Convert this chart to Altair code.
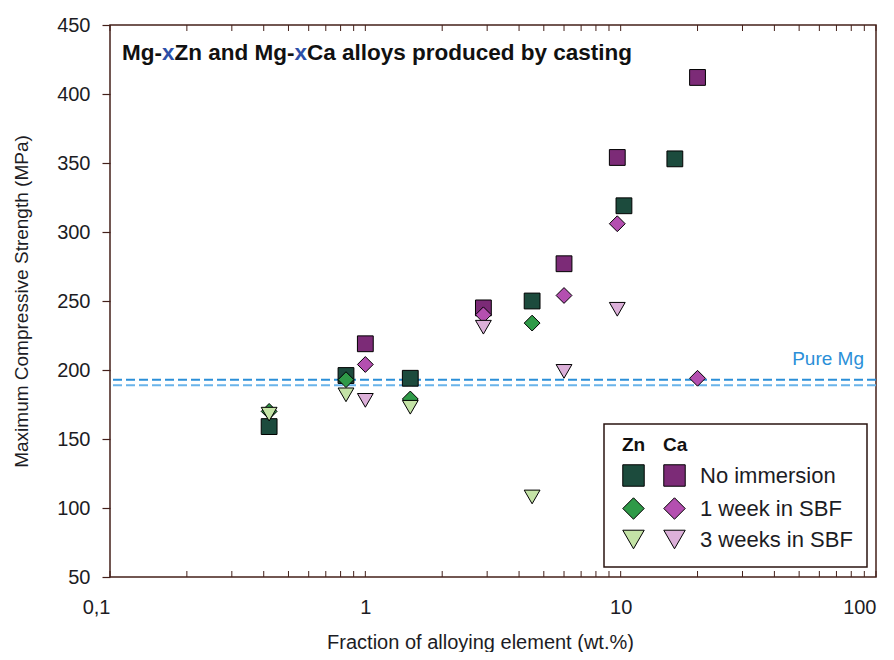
import altair as alt
import pandas as pd

# ---------------- data ----------------
conditions = ["No immersion", "1 week in SBF", "3 weeks in SBF"]

zn_x_sq = [0.42, 0.84, 1.5, 4.5, 10.3, 16.3]
zn_y_sq = [159, 196, 194, 250, 319, 353]
zn_x_di = [0.42, 0.84, 1.5, 4.5]
zn_y_di = [170, 193, 179, 234]
zn_x_tr = [0.42, 0.84, 1.5, 4.5]
zn_y_tr = [168, 182, 173, 108]

ca_x_sq = [1.0, 2.9, 6.0, 9.7, 20.0]
ca_y_sq = [219, 245, 277, 354, 412]
ca_x_di = [1.0, 2.9, 6.0, 9.7, 20.0]
ca_y_di = [204, 240, 254, 306, 194]
ca_x_tr = [1.0, 2.9, 6.0, 9.7]
ca_y_tr = [178, 231, 199, 244]

pure_mg = [193, 189]
pure_mg_colors = ["#2b8fd8", "#6ab4ea"]

y_ticks = [50, 100, 150, 200, 250, 300, 350, 400, 450]
x_major = [0.1, 1, 10, 100]
x_minor = [m * 10.0 ** e for e in (-1, 0, 1) for m in range(1, 10)] + [100]

zn_colors = ["#1c4b3d", "#2f9a48", "#c4e3a6"]
ca_colors = ["#7c2b77", "#b44fb0", "#dcb0d9"]
outline_colors = ["#000000", "#000000", "#000000"]
shapes = ["square", "diamond", "triangle-down"]

title_pieces = ["Mg-", "x", "Zn and Mg-", "x", "Ca alloys produced by casting"]
title_colors = ["#111111", "#2c4fa8", "#111111", "#2c4fa8", "#111111"]
title_offsets_em = [0, 1.777, 2.333, 7.666, 8.222]
TITLE_SIZE = 22.5

W, H = 766, 552
FONT = "Liberation Sans"
TXT = "#1c1c24"
FRAME = "#44201a"


def block(xs, ys, cond):
    return pd.DataFrame({"x": xs, "y": ys, "cond": cond})


zn_df = pd.concat([block(zn_x_sq, zn_y_sq, conditions[0]),
                   block(zn_x_di, zn_y_di, conditions[1]),
                   block(zn_x_tr, zn_y_tr, conditions[2])], ignore_index=True)
ca_df = pd.concat([block(ca_x_sq, ca_y_sq, conditions[0]),
                   block(ca_x_di, ca_y_di, conditions[1]),
                   block(ca_x_tr, ca_y_tr, conditions[2])], ignore_index=True)

xscale = alt.Scale(type="log", domain=[0.1, 100], nice=False)
yscale = alt.Scale(domain=[50, 450], nice=False, zero=False)

main_x_axis = alt.Axis(orient="bottom", values=x_major,
                       labelExpr="replace(format(datum.value, '~g'), '.', ',')",
                       labelAlign=alt.ConditionalAxisString(
                           condition={"test": "datum.value < 0.5 || datum.value > 50", "value": "right"},
                           value="center"),
                       tickSize=0, domain=False, grid=False,
                       labelFont=FONT, labelFontSize=20, labelColor=TXT, labelPadding=20,
                       title="Fraction of alloying element (wt.%)", titleFont=FONT,
                       titleFontSize=20, titleFontWeight="normal", titleColor=TXT,
                       titleX=370, titleY=71, titleBaseline="alphabetic")

y_axis = alt.Axis(values=y_ticks, tickSize=8, tickColor=FRAME, tickWidth=1.2,
                  domain=False, grid=False, labelFont=FONT, labelFontSize=20,
                  labelColor=TXT, labelPadding=12,
                  title="Maximum Compressive Strength (MPa)", titleFont=FONT,
                  titleFontSize=19, titleFontWeight="normal", titleColor=TXT,
                  titlePadding=25)


def legend(title, x, show_labels):
    kw = dict(title=title, orient="none", legendX=x, legendY=411, padding=0,
              titleFont=FONT, titleFontSize=19, titleFontWeight="bold", titleColor="#111111",
              titlePadding=9, labelFont=FONT, labelFontSize=22, labelColor=TXT,
              labelOffset=14, rowPadding=6, symbolSize=460,
              symbolStrokeWidth=1, symbolOpacity=1)
    if not show_labels:
        kw["labelExpr"] = "''"
    return alt.Legend(**kw)


def point_layer(df, colors, leg, x_axis, y_ax):
    return alt.Chart(df).mark_point(filled=True, strokeWidth=1, opacity=1,
                                    size=250).encode(
        x=alt.X("x:Q", scale=xscale, axis=x_axis),
        y=alt.Y("y:Q", scale=yscale, axis=y_ax),
        fill=alt.Fill("cond:N", scale=alt.Scale(domain=conditions, range=colors), legend=leg),
        stroke=alt.Stroke("cond:N", scale=alt.Scale(domain=conditions, range=outline_colors),
                          legend=leg),
        shape=alt.Shape("cond:N", scale=alt.Scale(domain=conditions, range=shapes), legend=leg),
    )


zn_layer = point_layer(zn_df, zn_colors, legend("Zn", 512, False), main_x_axis, y_axis)
ca_layer = point_layer(ca_df, ca_colors, legend("Ca", 553, True), None, None)

# minor/major ticks pointing inward on the bottom and top edges
tick_df = pd.DataFrame({"v": x_minor})
bottom_ticks = alt.Chart(tick_df).mark_tick(color=FRAME, thickness=1, size=6, opacity=1).encode(
    x=alt.X("v:Q", scale=xscale, axis=None), y=alt.value(H - 3))
top_ticks = alt.Chart(tick_df).mark_tick(color=FRAME, thickness=1, size=6, opacity=1).encode(
    x=alt.X("v:Q", scale=xscale, axis=None), y=alt.value(3))

mg_df = pd.DataFrame({"v": pure_mg, "c": pure_mg_colors})
mg_layer = alt.Chart(mg_df).mark_rule(strokeDash=[9, 4], strokeWidth=2).encode(
    y=alt.Y("v:Q", scale=yscale, axis=None),
    color=alt.Color("c:N", scale=None, legend=None),
)

mg_text = alt.Chart(pd.DataFrame({"t": ["Pure Mg"]})).mark_text(
    font=FONT, fontSize=19, color="#2b8fd8", align="right", baseline="alphabetic"
).encode(x=alt.value(754), y=alt.value(340), text="t:N")

title_layers = []
for piece, col, off in zip(title_pieces, title_colors, title_offsets_em):
    title_layers.append(
        alt.Chart(pd.DataFrame({"t": [piece]})).mark_text(
            font=FONT, fontSize=TITLE_SIZE, fontWeight="bold", color=col, align="left",
            baseline="alphabetic"
        ).encode(x=alt.value(12 + off * TITLE_SIZE), y=alt.value(35), text="t:N")
    )

legend_box = alt.Chart(pd.DataFrame({"a": [0]})).mark_rect(
    fill=None, stroke="#2a1410", strokeWidth=1.5
).encode(x=alt.value(494), x2=alt.value(757), y=alt.value(399), y2=alt.value(542))

chart = alt.layer(
    mg_layer, bottom_ticks, top_ticks, zn_layer, ca_layer, mg_text, legend_box, *title_layers
).resolve_scale(
    fill="independent", shape="independent", stroke="independent"
).resolve_axis(
    x="independent", y="independent"
).properties(
    width=W, height=H,
    padding={"left": 102, "top": 17, "right": 10, "bottom": 75},
    autosize=alt.AutoSizeParams(type="none"),
    background="white",
).configure_view(
    stroke=FRAME, strokeWidth=1.5
).configure_legend(
    symbolSize=460
)

chart.save("out.html", embed_options={"renderer": "svg", "actions": False})
